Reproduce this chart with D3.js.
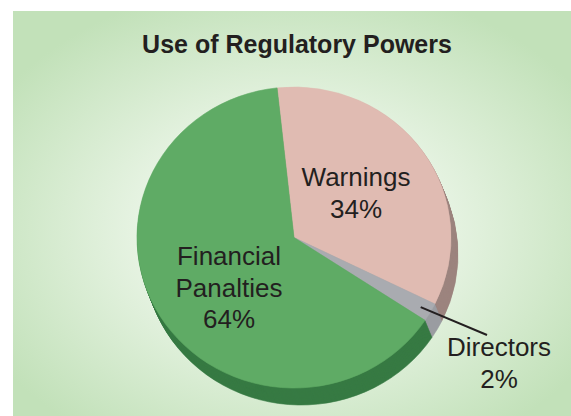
<!DOCTYPE html>
<html>
<head>
<meta charset="utf-8">
<style>
    body { margin: 0; background: #fff; }
    svg { display: block; }
    .title { font-family: 'Liberation Sans', Arial, sans-serif; font-weight: bold; font-size: 25px; fill: #231f20; }
    .label { font-family: 'Liberation Sans', Arial, sans-serif; font-size: 26px; fill: #231f20; }
</style>
</head>
<body>
<svg width="571" height="416"></svg>
<script src="https://d3js.org/d3.v7.min.js"></script>
<script>
    // data
    let categories = ["Warnings", "Directors", "Financial Panalties"]
    let values = [34, 2, 64]
    let labelLines = [["Warnings", "34%"], ["Directors", "2%"], ["Financial", "Panalties", "64%"]]

    let topColors = ["#e0bbb2", "#a9abb0", "#5fab65"]
    let sideColors = ["#9c847e", "#9a9ca1", "#377a43"]

    let svg = d3.select("svg")

    // background with soft radial glow
    let defs = svg.append("defs")
    let grad = defs.append("radialGradient")
        .attr("id", "bg")
        .attr("cx", "50%").attr("cy", "54%").attr("r", "62%")
    grad.append("stop").attr("offset", "0%").attr("stop-color", "#f6faf4")
    grad.append("stop").attr("offset", "45%").attr("stop-color", "#e6f3e2")
    grad.append("stop").attr("offset", "100%").attr("stop-color", "#c2e1b9")

    svg.append("rect")
        .attr("x", 13).attr("y", 11)
        .attr("width", 571 - 13).attr("height", 416 - 11)
        .attr("fill", "url(#bg)")

    svg.append("text")
        .attr("class", "title")
        .attr("x", 297).attr("y", 53)
        .attr("text-anchor", "middle")
        .text("Use of Regulatory Powers")

    let cx = 294, cy = 237.5
    let r = 150.5
    let sx = 157 / 150.5
    let depth = 17, shiftX = 7

    let pie = d3.pie()
        .sort(null)
        .startAngle(-0.108)
        .endAngle(2 * Math.PI - 0.108)

    let arcs = pie(values)
    let arc = d3.arc().innerRadius(0).outerRadius(r)

    let color = d3.scaleOrdinal().domain(categories).range(topColors)
    let side = d3.scaleOrdinal().domain(categories).range(sideColors)

    // extruded side, stacked layers
    let layers = d3.range(depth, 0, -1)
    svg.append("g")
        .selectAll("g")
        .data(layers)
        .join("g")
        .attr("transform", i => `translate(${cx + shiftX * i / depth},${cy + i}) scale(${sx},1)`)
        .selectAll("path")
        .data(arcs)
        .join("path")
        .attr("fill", (d, j) => side(categories[j]))
        .attr("stroke", (d, j) => side(categories[j]))
        .attr("stroke-width", 0.6)
        .attr("d", arc)

    // top face
    svg.append("g")
        .attr("transform", `translate(${cx},${cy}) scale(${sx},1)`)
        .selectAll("path")
        .data(arcs)
        .join("path")
        .attr("fill", (d, j) => color(categories[j]))
        .attr("stroke", (d, j) => color(categories[j]))
        .attr("stroke-width", 0.6)
        .attr("d", arc)

    // labels
    let labelPos = [[356, 186], [499, 356], [229, 265]]
    let lineGap = 31.5
    labelLines.forEach((lines, k) => {
        let t = svg.append("text")
            .attr("class", "label")
            .attr("text-anchor", "middle")
        lines.forEach((s, n) => {
            t.append("tspan")
                .attr("x", labelPos[k][0])
                .attr("y", labelPos[k][1] + n * lineGap)
                .text(s)
        })
    })

    // leader for the small slice
    let dirArc = arcs[1]
    let mid = (dirArc.startAngle + dirArc.endAngle) / 2
    let px = cx + Math.sin(mid) * r * 0.93 * sx
    let py = cy - Math.cos(mid) * r * 0.93
    svg.append("line")
        .attr("x1", px).attr("y1", py)
        .attr("x2", 487).attr("y2", 335)
        .attr("stroke", "#231f20")
        .attr("stroke-width", 2)
</script>
</body>
</html>
